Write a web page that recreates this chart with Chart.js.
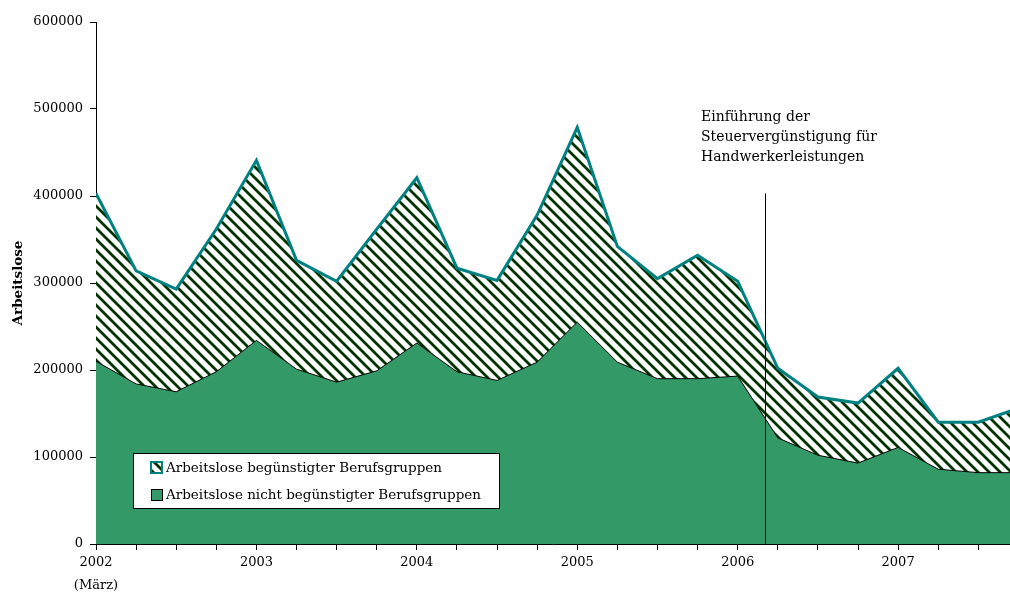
<!DOCTYPE html>
<html>
<head>
<meta charset="utf-8">
<script src="https://cdn.jsdelivr.net/npm/chart.js@4/dist/chart.umd.min.js"></script>
<style>
  html, body { margin: 0; padding: 0; background: #fff; }
  #chart { display: block; }
</style>
</head>
<body>
<canvas id="chart" width="1010" height="592"></canvas>
<script>
// quarterly values, starting March 2002
const quarters = [0, 1, 2, 3, 4, 5, 6, 7, 8, 9, 10, 11, 12, 13, 14, 15, 16, 17, 18, 19, 20, 21, 22, 23];
const gesamt = [403000, 314000, 293000, 362000, 441000, 326000, 302000, 362000, 421000, 317000, 303000, 378000,
                479000, 342000, 305000, 332000, 302000, 202000, 169000, 162000, 202000, 140000, 140000, 156000];
const nichtBeguenstigt = [210000, 184000, 175000, 198000, 234000, 201000, 186000, 199000, 231000, 198000, 188000, 209000,
                          255000, 209000, 190000, 190000, 193000, 122000, 102000, 93000, 111000, 86000, 82000, 82000];
const years = ['2002', '2003', '2004', '2005', '2006', '2007'];
const firstYearNote = '(März)';
const seriesLabels = ['Arbeitslose begünstigter Berufsgruppen', 'Arbeitslose nicht begünstigter Berufsgruppen'];
const annotationLines = ['Einführung der', 'Steuervergünstigung für', 'Handwerkerleistungen'];
const markerQuarter = 16.68;
const markerTop = 403000;

const FONT = '"DejaVu Serif", serif';
const TEAL = '#008080';
const GREEN = '#339966';
const STRIPE = '#003300';

function makeHatch() {
  const n = 11;
  const c = document.createElement('canvas');
  c.width = n; c.height = n;
  const g = c.getContext('2d');
  g.fillStyle = '#fff';
  g.fillRect(0, 0, n, n);
  g.strokeStyle = STRIPE;
  g.lineWidth = 2.8;
  g.beginPath();
  g.moveTo(-n / 2, -n / 2); g.lineTo(n * 1.5, n * 1.5);
  g.moveTo(-n * 1.5, -n / 2); g.lineTo(n / 2, n * 1.5);
  g.moveTo(n / 2, -n / 2); g.lineTo(n * 2.5, n * 1.5);
  g.stroke();
  return g.createPattern(c, 'repeat');
}
const hatch = makeHatch();

const markerPlugin = {
  id: 'marker',
  afterDatasetsDraw(chart) {
    const ctx = chart.ctx;
    const x = chart.scales.x.getPixelForValue(markerQuarter);
    const yTop = chart.scales.y.getPixelForValue(markerTop);
    const yBot = chart.scales.y.getPixelForValue(0);
    ctx.save();
    ctx.strokeStyle = '#000';
    ctx.lineWidth = 1;
    ctx.beginPath();
    ctx.moveTo(Math.round(x) + 0.5, yTop);
    ctx.lineTo(Math.round(x) + 0.5, yBot);
    ctx.stroke();
    ctx.fillStyle = '#000';
    ctx.font = '14px ' + FONT;
    ctx.textBaseline = 'middle';
    ctx.textAlign = 'left';
    annotationLines.forEach((t, i) => ctx.fillText(t, x - 64, 117 + i * 20));
    ctx.restore();
  }
};

const legendPlugin = {
  id: 'boxLegend',
  afterDatasetsDraw(chart) {
    const ctx = chart.ctx;
    const left = 133, top = 453, w = 366, h = 55;
    ctx.save();
    ctx.fillStyle = '#fff';
    ctx.fillRect(left, top, w, h);
    ctx.strokeStyle = '#000';
    ctx.lineWidth = 1;
    ctx.strokeRect(left + 0.5, top + 0.5, w, h);
    // item 1: hatched with teal border
    ctx.fillStyle = hatch;
    ctx.fillRect(151, 462, 11, 11);
    ctx.strokeStyle = TEAL;
    ctx.lineWidth = 2;
    ctx.strokeRect(151, 462, 11, 11);
    // item 2: green with black border
    ctx.fillStyle = GREEN;
    ctx.fillRect(151.5, 489.5, 11, 11);
    ctx.strokeStyle = '#000';
    ctx.lineWidth = 1;
    ctx.strokeRect(151.5, 489.5, 11, 11);
    ctx.fillStyle = '#000';
    ctx.font = '13.5px ' + FONT;
    ctx.textBaseline = 'middle';
    ctx.fillText(seriesLabels[0], 166, 468);
    ctx.fillText(seriesLabels[1], 166, 495);
    ctx.restore();
  }
};

new Chart(document.getElementById('chart'), {
  type: 'line',
  data: {
    labels: quarters,
    datasets: [
      {
        label: seriesLabels[1],
        data: quarters.map((q, i) => ({ x: q, y: nichtBeguenstigt[i] })),
        borderColor: '#000',
        borderWidth: 1,
        backgroundColor: GREEN,
        fill: 'origin',
        pointRadius: 0,
        tension: 0
      },
      {
        label: seriesLabels[0],
        data: quarters.map((q, i) => ({ x: q, y: gesamt[i] })),
        borderColor: TEAL,
        borderWidth: 3,
        backgroundColor: hatch,
        fill: '-1',
        pointRadius: 0,
        tension: 0
      }
    ]
  },
  options: {
    responsive: false,
    animation: false,
    devicePixelRatio: 1,
    layout: { padding: { top: 22, right: 0, left: 0, bottom: 0 } },
    plugins: { legend: { display: false }, tooltip: { enabled: false } },
    scales: {
      x: {
        type: 'linear',
        min: 0,
        max: 22.79,
        afterFit: s => { s.height = 48; },
        border: { display: true, color: '#000', width: 1 },
        grid: { drawOnChartArea: false, drawTicks: true, tickLength: 6, color: '#000' },
        ticks: {
          stepSize: 1,
          includeBounds: false,
          autoSkip: false,
          maxRotation: 0,
          padding: 2,
          color: '#000',
          font: { family: FONT, size: 13, lineHeight: 1.7 },
          callback: v => {
            if (v % 4 !== 0) return '';
            const y = years[v / 4];
            return v === 0 ? [y, firstYearNote] : y;
          }
        }
      },
      y: {
        min: 0,
        max: 600000,
        afterFit: s => { s.width = 96; },
        border: { display: true, color: '#000', width: 1 },
        grid: { drawOnChartArea: false, drawTicks: true, tickLength: 6, color: '#000' },
        title: {
          display: true,
          text: 'Arbeitslose',
          color: '#000',
          font: { family: FONT, size: 13.5, weight: 'bold' },
          padding: { top: 10, bottom: 0 }
        },
        ticks: {
          stepSize: 100000,
          padding: 7,
          color: '#000',
          font: { family: FONT, size: 13 },
          callback: v => String(v)
        }
      }
    }
  },
  plugins: [markerPlugin, legendPlugin]
});
</script>
</body>
</html>
